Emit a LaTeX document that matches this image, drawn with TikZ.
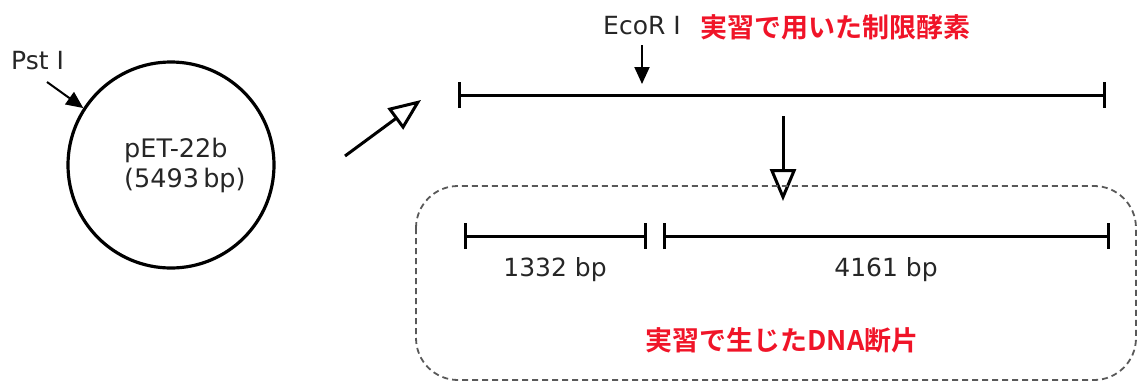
\documentclass[tikz,border=0pt]{standalone}
\usepackage{fontspec}
\setmainfont{DejaVu Sans}
\newfontfamily\jpbold{Noto Sans CJK JP Bold}
\usetikzlibrary{arrows.meta}
\definecolor{jred}{RGB}{240,20,40}
\tikzset{
  lbl/.style={font=\fontsize{25}{27}\selectfont, inner sep=0pt, text=black!85},
  plbl/.style={font=\fontsize{25.5}{27}\selectfont, inner sep=0pt, text=black!85, anchor=base west},
  redlbl/.style={font=\jpbold\fontsize{27}{29}\selectfont, text=jred, inner sep=0pt},
  seg/.style={line width=3pt, {Bar[width=26pt,line width=3pt]}-{Bar[width=26pt,line width=3pt]}},
  openarr/.style={line width=3pt, -{Triangle[open,length=32pt,width=26pt,line width=3pt]}},
  solarr/.style={line width=2pt, -{Triangle[length=17pt,width=15pt]}},
}
\begin{document}
\begin{tikzpicture}[x=1pt,y=-1pt]
\useasboundingbox (0,0) rectangle (1138,383);
% plasmid
\node[circle, draw, line width=3.2pt, minimum size=206pt, inner sep=0pt] (plasmid) at (171,165) {};
\node[plbl] (pname) at (124,157) {pET-22b};
\node[plbl] (psize) at (124,187) {(5493\,bp)};
\node[lbl, anchor=west] (pst) at (11,61) {Pst I};
\coordinate (pstfrom) at (47,82);
\draw[solarr] (pstfrom) -- (plasmid.147);
% arrow to linear
\coordinate (a1) at (345,156);
\coordinate (a2) at (421,100);
\draw[openarr] (a1) -- (a2);
% linear DNA
\coordinate (L1) at (458,95);
\coordinate (L2) at (1106,95);
\draw[seg] (L1) -- (L2);
\node[lbl] (eco) at (642,26) {EcoR I};
\node[redlbl, anchor=west] (enz) at (700,27) {実習で用いた制限酵素};
\coordinate (ecofrom) at (642,45);
\coordinate (ecocut) at (642,84);
\draw[solarr] (ecofrom) -- (ecocut);
% down arrow
\coordinate (d1) at (783,116);
\coordinate (d2) at (783,201);
\draw[openarr] (d1) -- (d2);
% dashed box
\draw[line width=1.8pt, dash pattern=on 6pt off 4pt, rounded corners=42pt, black!65] (416,186) rectangle (1136,380);
% fragments
\coordinate (f1a) at (464,236);
\coordinate (f1b) at (647,236);
\coordinate (f2a) at (663,236);
\coordinate (f2b) at (1110,236);
\draw[seg] (f1a) -- (f1b);
\draw[seg] (f2a) -- (f2b);
\node[lbl] (s1) at (555,270) {1332 bp};
\node[lbl] (s2) at (886,270) {4161 bp};
\node[redlbl] (frag) at (782,340) {実習で生じたDNA断片};
\end{tikzpicture}
\end{document}
